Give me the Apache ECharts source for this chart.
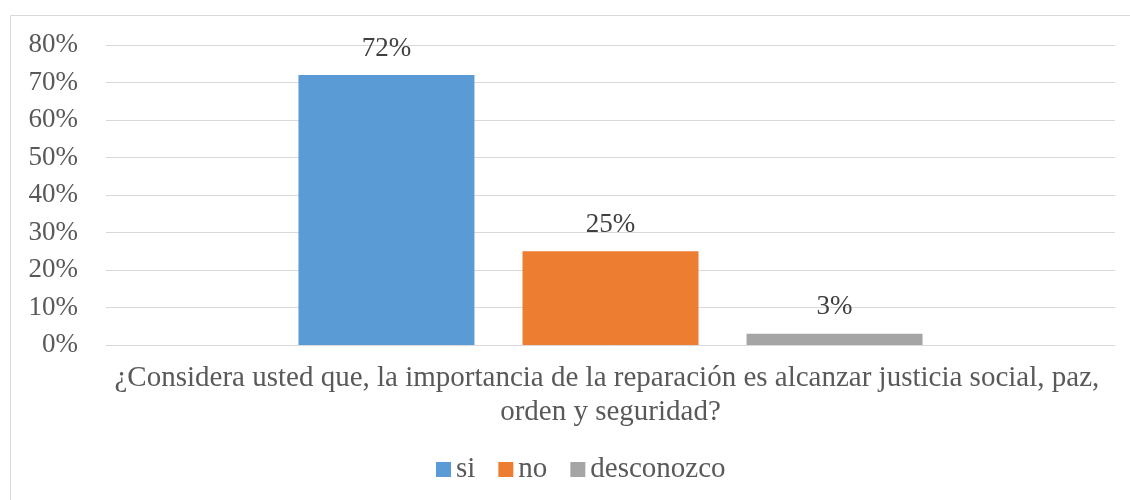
<!DOCTYPE html>
<html>
<head>
<meta charset="utf-8">
<script src="https://cdn.jsdelivr.net/npm/echarts@6/dist/echarts.min.js"></script>
<style>
  html, body { margin: 0; padding: 0; background: #fff; }
  #chart { width: 1130px; height: 500px; }
</style>
</head>
<body>
<div id="chart"></div>
<script>
const categories = ['¿Considera usted que, la importancia de la reparación es alcanzar justicia social, paz, orden y seguridad?'];
const seriesNames = ['si', 'no', 'desconozco'];
const seriesValues = [[72], [25], [3]];
const seriesColors = ['#5b9bd5', '#ed7d31', '#a5a5a5'];

const font = 'Liberation Serif, Times New Roman, serif';

const chart = echarts.init(document.getElementById('chart'));

chart.setOption({
    animation: false,
    textStyle: { fontFamily: font },
    graphic: [{
        type: 'rect',
        shape: { x: 10.5, y: 15.5, width: 1130, height: 500 },
        style: { fill: 'none', stroke: '#d9d9d9', lineWidth: 1 }
    }],
    grid: {
        left: 106,
        right: 15,
        top: 45,
        bottom: 155,
        outerBoundsMode: 'none'
    },
    legend: {
        left: 436,
        top: 455,
        padding: 0,
        itemWidth: 15,
        itemHeight: 15,
        itemGap: 23,
        icon: 'rect',
        textStyle: { fontFamily: font, fontSize: 29, color: '#595959', padding: [0, 0, 0, 0] },
        data: seriesNames
    },
    xAxis: {
        type: 'category',
        data: categories,
        axisLine: { show: false },
        axisTick: { show: false },
        axisLabel: {
            fontFamily: font,
            fontSize: 29,
            color: '#595959',
            margin: 16,
            width: 1040,
            overflow: 'break',
            lineHeight: 34
        }
    },
    yAxis: {
        type: 'value',
        min: 0,
        max: 80,
        interval: 10,
        axisLine: { show: false },
        axisTick: { show: false },
        splitLine: { lineStyle: { color: '#d9d9d9', width: 1 } },
        axisLabel: {
            fontFamily: font,
            fontSize: 27,
            color: '#595959',
            margin: 28,
            formatter: '{value}%'
        }
    },
    series: seriesNames.map((name, i) => ({
        name: name,
        type: 'bar',
        data: seriesValues[i],
        barWidth: 176,
        barGap: '27.3%',
        itemStyle: { color: seriesColors[i] },
        label: {
            show: true,
            position: 'top',
            distance: 13,
            fontFamily: font,
            fontSize: 27,
            color: '#404040',
            formatter: '{c}%'
        }
    }))
});
</script>
</body>
</html>
